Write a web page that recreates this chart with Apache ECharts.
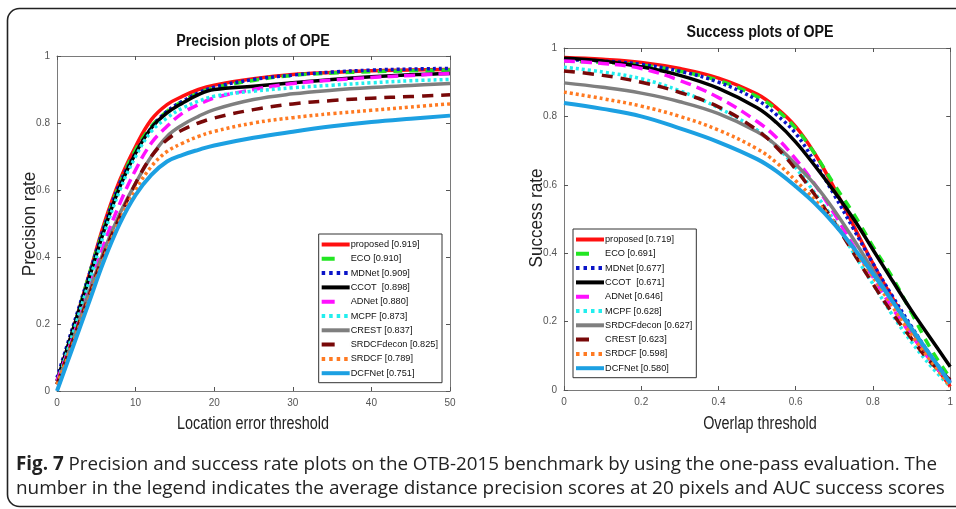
<!DOCTYPE html>
<html><head><meta charset="utf-8">
<script src="https://cdn.jsdelivr.net/npm/echarts@6/dist/echarts.min.js"></script>
<style>html,body{margin:0;padding:0;background:#fff}#c{width:956px;height:509px}</style>
</head><body><div id="c"></div>
<script>
// ---------- DATA ----------
var precX = [0,2,4,6,8,10,12,14,16,18,20,25,30,35,40,45,50];
var precNames = ['proposed [0.919]','ECO [0.910]','MDNet [0.909]','CCOT  [0.898]','ADNet [0.880]','MCPF [0.873]','CREST [0.837]','SRDCFdecon [0.825]','SRDCF [0.789]','DCFNet [0.751]'];
var precProposed   = [0.02,0.18,0.34,0.50,0.63,0.73,0.81,0.855,0.88,0.90,0.913,0.932,0.945,0.951,0.956,0.958,0.96];
var precECO        = [0.03,0.18,0.34,0.49,0.62,0.72,0.79,0.835,0.865,0.89,0.905,0.927,0.942,0.949,0.953,0.956,0.958];
var precMDNet      = [0.04,0.19,0.34,0.49,0.62,0.71,0.785,0.835,0.865,0.89,0.907,0.93,0.943,0.952,0.958,0.961,0.963];
var precCCOT       = [0.03,0.18,0.33,0.48,0.61,0.71,0.785,0.83,0.86,0.885,0.90,0.91,0.92,0.93,0.938,0.944,0.948];
var precADNet      = [0.03,0.16,0.30,0.44,0.56,0.66,0.74,0.79,0.83,0.855,0.875,0.90,0.918,0.928,0.936,0.942,0.948];
var precMCPF       = [0.02,0.17,0.32,0.47,0.60,0.70,0.775,0.815,0.845,0.865,0.88,0.895,0.905,0.913,0.92,0.926,0.93];
var precCREST      = [0.02,0.15,0.29,0.42,0.53,0.62,0.70,0.76,0.795,0.82,0.84,0.87,0.887,0.898,0.906,0.912,0.918];
var precSRDCFdecon = [0.02,0.15,0.28,0.41,0.52,0.62,0.70,0.75,0.78,0.80,0.815,0.84,0.857,0.867,0.874,0.879,0.884];
var precSRDCF      = [0.02,0.14,0.27,0.40,0.51,0.60,0.67,0.715,0.74,0.76,0.775,0.80,0.816,0.828,0.838,0.848,0.857];
var precDCFNet     = [0.0,0.13,0.26,0.39,0.50,0.585,0.645,0.685,0.705,0.72,0.733,0.756,0.774,0.79,0.803,0.813,0.822];

var succX = [0,0.1,0.2,0.3,0.4,0.5,0.55,0.6,0.65,0.7,0.75,0.8,0.85,0.9,0.95,1.0];
var succNames = ['proposed [0.719]','ECO [0.691]','MDNet [0.677]','CCOT  [0.671]','ADNet [0.646]','MCPF [0.628]','SRDCFdecon [0.627]','CREST [0.623]','SRDCF [0.598]','DCFNet [0.580]'];
var succProposed   = [0.972,0.967,0.958,0.94,0.912,0.865,0.825,0.77,0.69,0.59,0.48,0.37,0.27,0.175,0.09,0.01];
var succECO        = [0.962,0.958,0.95,0.932,0.905,0.858,0.82,0.765,0.69,0.60,0.515,0.42,0.33,0.225,0.12,0.035];
var succMDNet      = [0.966,0.962,0.952,0.932,0.90,0.848,0.805,0.75,0.665,0.57,0.47,0.37,0.275,0.185,0.1,0.025];
var succCCOT       = [0.97,0.962,0.945,0.92,0.882,0.825,0.782,0.725,0.655,0.58,0.50,0.41,0.32,0.232,0.15,0.068];
var succADNet      = [0.962,0.955,0.94,0.905,0.855,0.785,0.738,0.675,0.6,0.515,0.42,0.33,0.24,0.16,0.085,0.02];
var succMCPF       = [0.944,0.93,0.91,0.875,0.825,0.76,0.712,0.65,0.575,0.495,0.40,0.31,0.22,0.14,0.07,0.01];
var succSRDCFdecon = [0.898,0.885,0.868,0.843,0.808,0.755,0.715,0.66,0.6,0.525,0.44,0.35,0.26,0.175,0.095,0.02];
var succCREST      = [0.933,0.92,0.9,0.87,0.828,0.76,0.71,0.645,0.57,0.49,0.40,0.31,0.225,0.15,0.08,0.03];
var succSRDCF      = [0.871,0.852,0.83,0.80,0.76,0.705,0.665,0.612,0.555,0.49,0.41,0.33,0.245,0.16,0.085,0.01];
var succDCFNet     = [0.839,0.822,0.8,0.765,0.725,0.675,0.64,0.595,0.545,0.485,0.415,0.34,0.26,0.18,0.1,0.02];

var precTicks = [0,10,20,30,40,50];
var succTicks = [0,0.2,0.4,0.6,0.8,1];
var rateTicks = [0,0.2,0.4,0.6,0.8,1];

// ---------- STYLES (by legend position) ----------
var ICON_SOLID  = 'path://M0,0H28V4H0Z';
var ICON_DASH   = 'path://M0,0H13V4H0Z M27.99,0H28V4H27.99Z';
var ICON_DOT    = 'path://M0,0H3.5V4H0Z M7.5,0H11V4H7.5Z M15,0H18.5V4H15Z M22.5,0H26V4H22.5Z M27.99,0H28V4H27.99Z';
var styles = [
  {color:'#ff1010', width:3.5, type:'solid', icon:ICON_SOLID},
  {color:'#22e622', width:3.5, type:[9,7],   icon:ICON_DASH},
  {color:'#0a14c8', width:3.5, type:[3,3],   icon:ICON_DOT},
  {color:'#000000', width:3.5, type:'solid', icon:ICON_SOLID},
  {color:'#ff10ff', width:3.5, type:[11,6],  icon:ICON_DASH},
  {color:'#22eeee', width:3.5, type:[3,3],   icon:ICON_DOT},
  {color:'#7f7f7f', width:3.5, type:'solid', icon:ICON_SOLID},
  {color:'#780808', width:3.5, type:[11,8],  icon:ICON_DASH},
  {color:'#ff7a22', width:3.5, type:[3,3],   icon:ICON_DOT},
  {color:'#1ca0e2', width:4,   type:'solid', icon:ICON_SOLID}
];

var precData = [precProposed,precECO,precMDNet,precCCOT,precADNet,precMCPF,precCREST,precSRDCFdecon,precSRDCF,precDCFNet];
var succData = [succProposed,succECO,succMDNet,succCCOT,succADNet,succMCPF,succSRDCFdecon,succCREST,succSRDCF,succDCFNet];

function pairs(xs, ys){ return xs.map(function(x,i){ return [x, ys[i]]; }); }

var series = [];
function addSeries(names, data, xs, xi, yi){
  data.forEach(function(d,i){
    var s = styles[i];
    series.push({name:names[i], type:'line', xAxisIndex:xi, yAxisIndex:yi, data:pairs(xs,d),
      smooth:0.4, symbol:'none', silent:true,
      lineStyle:{color:s.color, width:s.width, type:s.type}, itemStyle:{color:s.color}, z:2+i});
  });
}
addSeries(precNames, precData, precX, 0, 0);
addSeries(succNames, succData, succX, 2, 2);

var SANS = '"Liberation Sans",Arial,sans-serif';
var tickLbl = {color:'#555', fontSize:10, fontFamily:SANS, margin:7};
var axLineStyle = {color:'#7a7a7a', width:1};
var axTick = {inside:true, length:4, lineStyle:{color:'#555'}};

function mkX(grid, min, max, interval, pos, show){
  return {type:'value', gridIndex:grid, min:min, max:max, interval:interval, position:pos,
    axisLine:{show:true, onZero:false, lineStyle:axLineStyle}, axisTick:axTick,
    axisLabel: show ? tickLbl : {show:false}, splitLine:{show:false}};
}
function mkY(grid, pos, show){
  return {type:'value', gridIndex:grid, min:0, max:1, interval:0.2, position:pos,
    axisLine:{show:true, onZero:false, lineStyle:axLineStyle}, axisTick:axTick,
    axisLabel: show ? tickLbl : {show:false}, splitLine:{show:false}};
}

function mkLegend(names, pos){
  var l = {data:names.map(function(n,i){ return {name:n, icon:styles[i].icon}; }),
    orient:'vertical', itemWidth:28, itemHeight:4, itemGap:3.3,
    padding:[5,4,4,3], borderColor:'#333', borderWidth:1, backgroundColor:'#fff', selectedMode:false,
    textStyle:{fontSize:9.2, color:'#111', fontFamily:SANS, padding:[0,0,0,-4], height:11, lineHeight:11}};
  for (var k in pos) l[k] = pos[k];
  return l;
}

var option = {
  animation:false,
  backgroundColor:'#fff',
  grid:[
    {left:57, top:56, width:393, height:335},
    {left:564, top:48, width:394, height:342}
  ],
  xAxis:[ mkX(0,0,50,10,'bottom',true), mkX(0,0,50,10,'top',false),
          mkX(1,0,1,0.2,'bottom',true), mkX(1,0,1,0.2,'top',false) ],
  yAxis:[ mkY(0,'left',true), mkY(0,'right',false), mkY(1,'left',true), mkY(1,'right',false) ],
  legend:[ mkLegend(precNames, {right:514, top:234}), mkLegend(succNames, {left:573, top:229}) ],
  series:series,
  graphic:[
    {type:'rect', shape:{x:7.5, y:8.5, width:1000, height:498, r:12}, style:{fill:null, stroke:'#222', lineWidth:1.6}, z:-1},
    {type:'text', x:253, y:42, scaleX:0.89, style:{text:'Precision plots of OPE', fontSize:16, fontWeight:'bold', fontFamily:SANS, fill:'#111', align:'center', verticalAlign:'middle'}},
    {type:'text', x:760, y:33, scaleX:0.89, style:{text:'Success plots of OPE', fontSize:16, fontWeight:'bold', fontFamily:SANS, fill:'#111', align:'center', verticalAlign:'middle'}},
    {type:'text', x:253, y:424, scaleX:0.8, style:{text:'Location error threshold', fontSize:18, fontFamily:SANS, fill:'#222', align:'center', verticalAlign:'middle'}},
    {type:'text', x:760, y:424, scaleX:0.8, style:{text:'Overlap threshold', fontSize:18, fontFamily:SANS, fill:'#222', align:'center', verticalAlign:'middle'}},
    {type:'text', x:30, y:224, rotation:Math.PI/2, scaleX:0.95, style:{text:'Precision rate', fontSize:18, fontFamily:SANS, fill:'#222', align:'center', verticalAlign:'middle'}},
    {type:'text', x:537, y:218, rotation:Math.PI/2, scaleX:0.95, style:{text:'Success rate', fontSize:18, fontFamily:SANS, fill:'#222', align:'center', verticalAlign:'middle'}},
    {type:'text', x:16, y:465, style:{text:'{b|Fig. 7} Precision and success rate plots on the OTB-2015 benchmark by using the one-pass evaluation. The', verticalAlign:'middle', fontSize:18.8, fontFamily:'"Open Sans",sans-serif', fill:'#222',
      rich:{b:{fontWeight:'bold', fontSize:18.8, fontFamily:'"Open Sans",sans-serif', fill:'#222'}}}},
    {type:'text', x:16, y:489, style:{text:'number in the legend indicates the average distance precision scores at 20 pixels and AUC success scores', verticalAlign:'middle', fontSize:18.95, fontFamily:'"Open Sans",sans-serif', fill:'#222'}}
  ]
};
var chart = echarts.init(document.getElementById('c'), null, {renderer:'canvas'});
chart.setOption(option);
</script></body></html>
